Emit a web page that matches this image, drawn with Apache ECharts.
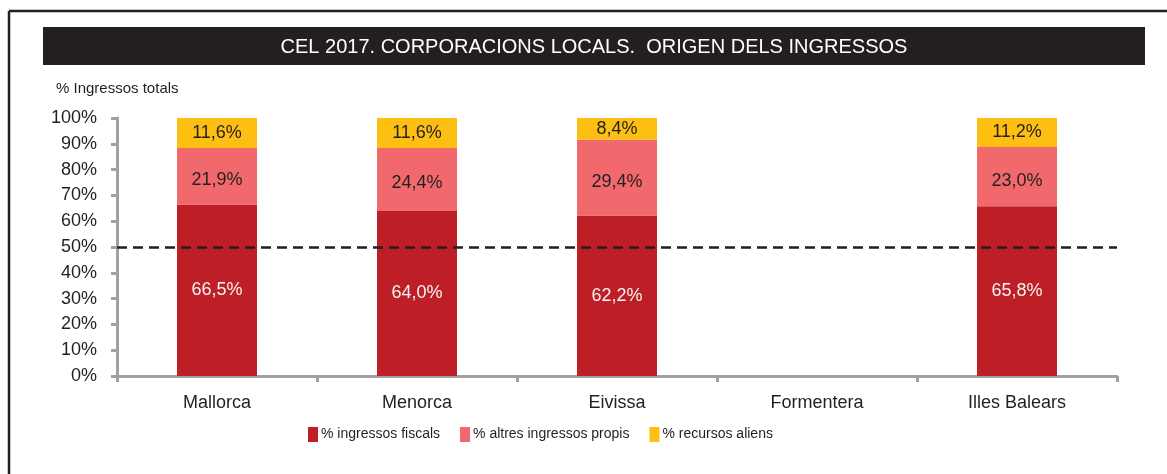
<!DOCTYPE html>
<html>
<head>
<meta charset="utf-8">
<script src="https://cdn.jsdelivr.net/npm/echarts@6/dist/echarts.min.js"></script>
<style>
  html, body { margin: 0; padding: 0; background: #fff; }
  #chart { width: 1167px; height: 474px; }
</style>
</head>
<body>
<div id="chart"></div>
<script>
// dades llegides del gràfic
var categories = ['Mallorca', 'Menorca', 'Eivissa', 'Formentera', 'Illes Balears'];
var fiscals = [66.5, 64.0, 62.2, null, 65.8];
var altresPropis = [21.9, 24.4, 29.4, null, 23.0];
var recursosAliens = [11.6, 11.6, 8.4, null, 11.2];
var seriesNames = ['% ingressos fiscals', '% altres ingressos propis', '% recursos aliens'];
var refLine = 50;

var FONT = '"Liberation Sans", Arial, sans-serif';
var DARK = '#231f20';
var GREY = '#a1a1a4';

function pct(p) {
    return p.value.toFixed(1).replace('.', ',') + '%';
}

window.onload = function() {
    var chart = echarts.init(document.getElementById('chart'));

    var option = {
        animation: false,
        textStyle: { fontFamily: FONT },
        graphic: [
            // marc
            { type: 'line', shape: { x1: 9, y1: 11, x2: 1167, y2: 11 }, style: { stroke: DARK, lineWidth: 2.5 } },
            { type: 'line', shape: { x1: 9, y1: 11, x2: 9, y2: 474 }, style: { stroke: DARK, lineWidth: 2.5 } },
            // barra del títol
            { type: 'rect', shape: { x: 43, y: 27, width: 1102, height: 38 }, style: { fill: DARK } },
            {
                type: 'text', x: 594, y: 47,
                style: {
                    text: 'CEL 2017. CORPORACIONS LOCALS.  ORIGEN DELS INGRESSOS',
                    fill: '#fff', font: '20px ' + FONT, align: 'center', verticalAlign: 'middle'
                }
            },
            {
                type: 'text', x: 56, y: 89,
                style: { text: '% Ingressos totals', fill: DARK, font: '15px ' + FONT, verticalAlign: 'middle' }
            }
        ],
        grid: { left: 117, right: 50, top: 118, bottom: 98 },
        legend: {
            data: seriesNames,
            icon: 'rect',
            left: 308,
            top: 427,
            padding: 0,
            itemWidth: 10,
            itemHeight: 15,
            itemGap: 20,
            textStyle: { color: DARK, fontSize: 14, fontFamily: FONT, padding: [0, 0, 0, -2] }
        },
        xAxis: {
            type: 'category',
            data: categories,
            axisLine: { lineStyle: { color: GREY, width: 3 } },
            axisTick: { show: true, length: 6, lineStyle: { color: GREY, width: 3 } },
            axisLabel: { color: DARK, fontSize: 18, fontFamily: FONT, margin: 18 }
        },
        yAxis: {
            type: 'value',
            min: 0,
            max: 100,
            interval: 10,
            axisLine: { show: true, lineStyle: { color: GREY, width: 3 } },
            axisTick: { show: true, length: 6, lineStyle: { color: GREY, width: 3 } },
            splitLine: { show: false },
            axisLabel: { color: DARK, fontSize: 18, fontFamily: FONT, margin: 20, formatter: '{value}%' }
        },
        series: [
            {
                name: seriesNames[0],
                type: 'bar',
                stack: 'total',
                barWidth: 80,
                data: fiscals,
                itemStyle: { color: '#be1e25' },
                label: { show: true, position: 'inside', color: '#f4f4f4', fontSize: 18, fontFamily: FONT, formatter: pct },
                markLine: {
                    silent: true,
                    symbol: 'none',
                    label: { show: false },
                    lineStyle: { color: DARK, width: 2.5, type: [10, 6] },
                    data: [{ yAxis: refLine }]
                }
            },
            {
                name: seriesNames[1],
                type: 'bar',
                stack: 'total',
                barWidth: 80,
                data: altresPropis,
                itemStyle: { color: '#f1696d' },
                label: { show: true, position: 'inside', color: DARK, fontSize: 18, fontFamily: FONT, formatter: pct, offset: [0, 4] }
            },
            {
                name: seriesNames[2],
                type: 'bar',
                stack: 'total',
                barWidth: 80,
                data: recursosAliens,
                itemStyle: { color: '#fdbf12' },
                label: { show: true, position: 'inside', color: DARK, fontSize: 18, fontFamily: FONT, formatter: pct }
            }
        ]
    };

    chart.setOption(option);
};
</script>
</body>
</html>
